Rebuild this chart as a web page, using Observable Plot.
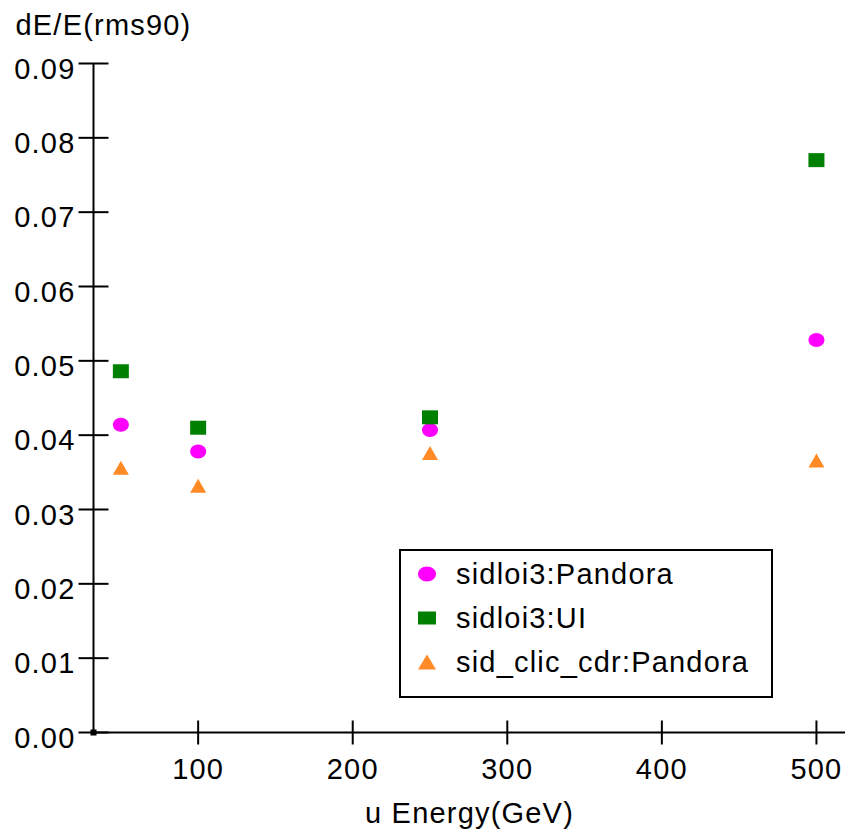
<!DOCTYPE html>
<html>
<head>
<meta charset="utf-8">
<script src="https://cdn.jsdelivr.net/npm/d3@7"></script>
<script src="https://cdn.jsdelivr.net/npm/@observablehq/plot@0.6"></script>
<style>
  body { margin: 0; background: #fff; }
  #wrap { position: relative; width: 848px; height: 832px; font-family: "Liberation Sans", Arial, sans-serif; }
  #legend { position: absolute; left: 399px; top: 549px; }
</style>
</head>
<body>
<div id="wrap"><div id="chart"></div><div id="legend"></div></div>
<script>
// ---- data ----
const energies = [50, 100, 250, 500];
const seriesNames = ["sidloi3:Pandora", "sidloi3:UI", "sid_clic_cdr:Pandora"];
const pandora = [0.0414, 0.0378, 0.0407, 0.0528];
const ui      = [0.0486, 0.0410, 0.0424, 0.0770];
const clicCdr = [0.0356, 0.0332, 0.0376, 0.0366];
const seriesColors = ["#ff00ff", "#008000", "#ff8a26"];
const xTicks = [100, 200, 300, 400, 500];
const yTicks = [0, 0.01, 0.02, 0.03, 0.04, 0.05, 0.06, 0.07, 0.08, 0.09];
const xDomain = [32.3, 518.8];
const yDomain = [0, 0.09];
const xTitle = "u Energy(GeV)";
const yTitle = "dE/E(rms90)";

const seriesValues = [pandora, ui, clicCdr];
const data = seriesNames.flatMap((s, i) => energies.map((e, j) => ({series: s, energy: e, value: seriesValues[i][j]})));

// ---- custom symbols ----
function ellipseSym(rx, ry) {
  const k = 0.5523, kx = k * rx, ky = k * ry;
  return {draw(c) {
    c.moveTo(rx, 0);
    c.bezierCurveTo(rx, ky, kx, ry, 0, ry);
    c.bezierCurveTo(-kx, ry, -rx, ky, -rx, 0);
    c.bezierCurveTo(-rx, -ky, -kx, -ry, 0, -ry);
    c.bezierCurveTo(kx, -ry, rx, -ky, rx, 0);
    c.closePath();
  }};
}
function rectSym(w, h) { return {draw(c) { c.rect(-w / 2, -h / 2, w, h); }}; }
function triSym(w, h) { return {draw(c) { c.moveTo(0, -h / 2); c.lineTo(w / 2, h / 2); c.lineTo(-w / 2, h / 2); c.closePath(); }}; }
const hline = {draw(c) { c.moveTo(-15, 0); c.lineTo(15, 0); }};
const vline = {draw(c) { c.moveTo(0, -12); c.lineTo(0, 12); }};

const symbols = [ellipseSym(8, 7), rectSym(16, 14), triSym(16, 14)];

const chart = Plot.plot({
  width: 848,
  height: 832,
  marginLeft: 93,
  marginRight: 3,
  marginTop: 63,
  marginBottom: 100,
  style: {fontFamily: '"Liberation Sans", Arial, sans-serif', fontSize: "29px", letterSpacing: "1.2px", color: "#000", background: "#fff"},
  x: {domain: xDomain},
  y: {domain: yDomain},
  color: {domain: seriesNames, range: seriesColors},
  symbol: {domain: seriesNames, range: symbols},
  marks: [
    Plot.ruleY([yDomain[0]], {stroke: "#000", strokeWidth: 2}),
    Plot.ruleX([xDomain[0]], {stroke: "#000", strokeWidth: 2}),
    Plot.dot(yTicks, {y: d => d, frameAnchor: "left", symbol: hline, stroke: "#000", strokeWidth: 2, fill: "none"}),
    Plot.dot(xTicks, {x: d => d, frameAnchor: "bottom", symbol: vline, stroke: "#000", strokeWidth: 2, fill: "none"}),
    Plot.dot([0], {frameAnchor: "bottom-left", symbol: "square", r: 3.4, fill: "#000"}),
    Plot.axisY({ticks: yTicks, tickSize: 0, tickPadding: 18, dy: 6, tickFormat: d => d.toFixed(2), label: null}),
    Plot.axisX({ticks: xTicks, tickSize: 0, tickPadding: 26, tickFormat: d => String(d), label: null}),
    Plot.text([xTitle], {text: d => d, frameAnchor: "bottom", lineAnchor: "middle", dy: 81}),
    Plot.text([yTitle], {text: d => d, frameAnchor: "top-left", lineAnchor: "middle", textAnchor: "start", dx: -78, dy: -38}),
    Plot.dot(data, {x: "energy", y: "value", fill: "series", symbol: "series", r: 5})
  ]
});
document.getElementById("chart").appendChild(chart);

// ---- legend ----
const legendW = 374, legendH = 149;
const lg = d3.select("#legend").append("svg")
  .attr("width", legendW).attr("height", legendH)
  .style("font-family", '"Liberation Sans", Arial, sans-serif')
  .style("font-size", "29px").style("letter-spacing", "1.2px");
lg.append("rect").attr("x", 1).attr("y", 1).attr("width", legendW - 2).attr("height", legendH - 2)
  .attr("fill", "#fff").attr("stroke", "#000").attr("stroke-width", 2);
const legendSyms = [ellipseSym(9, 7.5), rectSym(18, 13), triSym(18, 15)];
const rows = lg.selectAll("g.row").data(seriesNames).join("g")
  .attr("transform", (d, i) => `translate(0,${25 + i * 44})`);
rows.append("path")
  .attr("d", (d, i) => d3.symbol().type(legendSyms[i])())
  .attr("transform", "translate(28,0)")
  .attr("fill", (d, i) => seriesColors[i]);
rows.append("text").attr("x", 57).attr("y", 0).attr("dy", "0.36em").text(d => d);
</script>
</body>
</html>
